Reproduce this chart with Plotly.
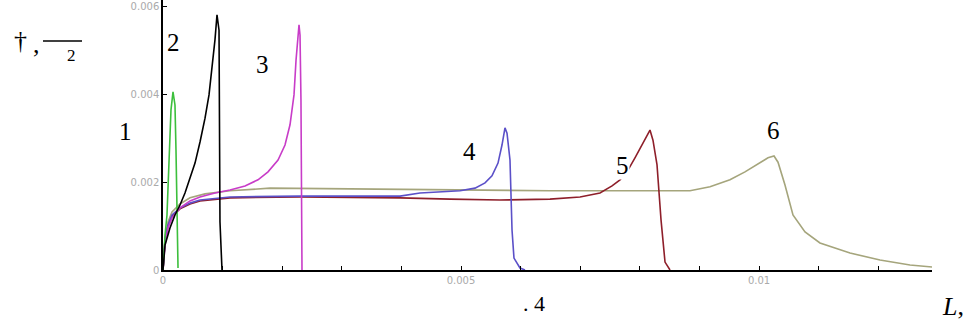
import plotly.graph_objects as go

# x in units of 1e-3, y in units of 1e-3 (converted below)
x1 = [0, 0.034, 0.067, 0.101, 0.134, 0.168, 0.201, 0.218, 0.235, 0.252]
y1 = [0, 0.795, 1.25, 2.73, 3.64, 4.05, 3.75, 2.73, 0.91, 0.045]

x2 = [0, 0.034, 0.117, 0.201, 0.285, 0.369, 0.453, 0.537, 0.621, 0.705, 0.772, 0.822, 0.872, 0.906, 0.940, 0.956, 0.990]
y2 = [0, 0.568, 0.955, 1.25, 1.477, 1.75, 2.09, 2.43, 2.91, 3.45, 3.98, 4.55, 5.23, 5.80, 5.45, 1.09, 0]

x3 = [0, 0.034, 0.084, 0.151, 0.285, 0.453, 0.621, 0.872, 1.124, 1.376, 1.594, 1.762, 1.930, 2.047, 2.131, 2.198, 2.232, 2.265, 2.282, 2.299, 2.315, 2.332]
y3 = [0, 0.568, 0.955, 1.18, 1.41, 1.57, 1.66, 1.75, 1.82, 1.91, 2.05, 2.23, 2.5, 2.84, 3.30, 3.98, 4.77, 5.45, 5.57, 5.34, 3.86, 0]

x4 = [0, 0.034, 0.084, 0.151, 0.285, 0.453, 0.621, 1.124, 2.299, 3.138, 3.977, 4.312, 4.648, 4.983, 5.235, 5.403, 5.520, 5.621, 5.688, 5.738, 5.772, 5.822, 5.856, 5.889, 5.990, 6.074]
y4 = [0, 0.68, 1.02, 1.25, 1.41, 1.52, 1.59, 1.66, 1.68, 1.68, 1.68, 1.75, 1.77, 1.80, 1.86, 1.98, 2.14, 2.43, 2.84, 3.23, 3.11, 2.5, 0.91, 0.27, 0.045, 0]

x5 = [0, 0.034, 0.084, 0.151, 0.285, 0.453, 0.621, 1.124, 2.299, 3.977, 4.815, 5.654, 6.493, 6.997, 7.332, 7.534, 7.668, 7.802, 7.919, 8.037, 8.171, 8.221, 8.289, 8.356, 8.423, 8.507]
y5 = [0, 0.66, 1.0, 1.22, 1.39, 1.50, 1.57, 1.64, 1.66, 1.64, 1.61, 1.59, 1.61, 1.66, 1.75, 1.91, 2.05, 2.27, 2.55, 2.84, 3.18, 2.95, 2.39, 1.14, 0.18, 0]

x6 = [0, 0.034, 0.084, 0.151, 0.285, 0.453, 0.705, 1.124, 1.795, 3.138, 4.815, 6.493, 8.171, 8.842, 9.178, 9.513, 9.765, 9.983, 10.151, 10.252, 10.319, 10.436, 10.570, 10.772, 11.023, 11.527, 12.030, 12.534, 12.903]
y6 = [0, 0.727, 1.09, 1.32, 1.5, 1.64, 1.73, 1.80, 1.86, 1.84, 1.82, 1.80, 1.80, 1.80, 1.89, 2.05, 2.23, 2.41, 2.55, 2.59, 2.45, 1.93, 1.25, 0.864, 0.614, 0.386, 0.227, 0.114, 0.068]

curve_labels = ["1", "2", "3", "4", "5", "6"]
colors = ["#3cbf3c", "#000000", "#c83cc8", "#5b50c8", "#8e1f2a", "#a5a57c"]

xtick_vals = [0, 0.005, 0.01]
xtick_text = ["0", "0.005", "0.01"]
ytick_vals = [0, 0.002, 0.004, 0.006]
ytick_text = ["0", "0.002", "0.004", "0.006"]

series = [(x1, y1), (x2, y2), (x3, y3), (x4, y4), (x5, y5), (x6, y6)]
# draw order: bottom-most first
order = [5, 4, 3, 2, 0, 1]

fig = go.Figure()
for i in order:
    xs, ys = series[i]
    fig.add_trace(go.Scatter(
        x=[v * 1e-3 for v in xs], y=[v * 1e-3 for v in ys],
        mode="lines", line=dict(color=colors[i], width=1.6),
        name=curve_labels[i], showlegend=False, hoverinfo="skip"))

L, R, T, B = 163, 44, 0, 56
W, H = 976, 326
pw, ph = W - L - R, H - T - B

def px(x):
    return (x - L) / pw

def py(y):
    return (H - B - y) / ph

serif = "Liberation Serif, Times New Roman, serif"

def text(x, y, t, size, bg=None):
    fig.add_annotation(x=px(x), y=py(y), xref="paper", yref="paper", text=t,
                       xanchor="center", yanchor="middle", showarrow=False,
                       font=dict(family=serif, size=size, color="black"),
                       bgcolor=bg if bg else "rgba(0,0,0,0)", borderpad=0)

label_pos = [(125, 131), (173, 42), (262, 65), (469, 151), (622, 165), (773, 130)]
for t, (ax, ay) in zip(curve_labels, label_pos):
    text(ax, ay, t, 25, "white")

# y-axis label fragments
text(20, 40, "†", 26)
text(36, 44, ",", 26)
fig.add_shape(type="line", xref="paper", yref="paper", x0=px(43), x1=px(82),
              y0=py(41), y1=py(41), line=dict(color="black", width=1.3))
text(71, 56, "2", 17)
# x-axis label fragments
text(534, 303, ". 4", 22)
text(953, 306, "<i>L</i>,", 26)

fig.update_layout(
    width=W, height=H, margin=dict(l=L, r=R, t=T, b=B),
    plot_bgcolor="white", paper_bgcolor="white",
    xaxis=dict(range=[0, pw / 59.6 * 1e-3], showgrid=False, zeroline=False,
               showline=True, linecolor="black", linewidth=1.5,
               tickvals=xtick_vals, ticktext=xtick_text, ticks="inside", ticklen=4,
               tickcolor="black",
               minor=dict(dtick=0.001, ticks="inside", ticklen=4, tickcolor="black"),
               tickfont=dict(family="DejaVu Sans", size=10, color="#aaaaaa")),
    yaxis=dict(range=[0, ph / 44 * 1e-3], showgrid=False, zeroline=False,
               showline=True, linecolor="black", linewidth=1.5,
               tickvals=ytick_vals, ticktext=ytick_text, ticks="inside", ticklen=4,
               tickcolor="black",
               tickfont=dict(family="DejaVu Sans", size=10, color="#aaaaaa")),
)

fig.write_html("out.html", config={"displayModeBar": False},
               post_script="document.body.style.margin='0';")
